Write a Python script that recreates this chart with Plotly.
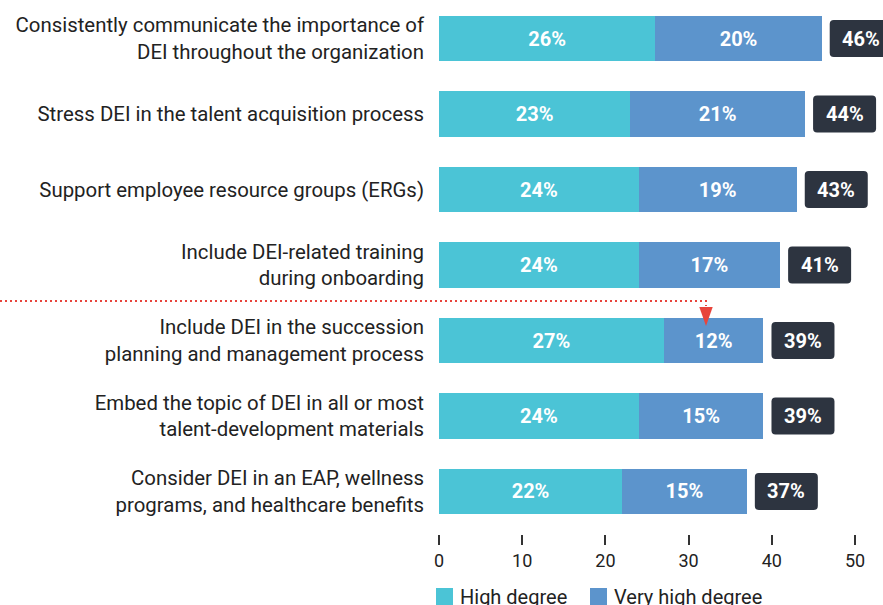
import plotly.graph_objects as go

categories = [
    "Consistently communicate the importance of<br>DEI throughout the organization",
    "Stress DEI in the talent acquisition process",
    "Support employee resource groups (ERGs)",
    "Include DEI-related training<br>during onboarding",
    "Include DEI in the succession<br>planning and management process",
    "Embed the topic of DEI in all or most<br>talent-development materials",
    "Consider DEI in an EAP, wellness<br>programs, and healthcare benefits",
]
high_degree = [26, 23, 24, 24, 27, 24, 22]
very_high_degree = [20, 21, 19, 17, 12, 15, 15]
series_names = ["High degree", "Very high degree"]
x_ticks = [0, 10, 20, 30, 40, 50]

C_HIGH = "#4bc4d6"
C_VHIGH = "#5c94cc"
C_BOX = "#2d3440"
C_RED = "#e8453c"
FONT = "Roboto"

totals = [a + b for a, b in zip(high_degree, very_high_degree)]
ypos = list(range(len(categories)))

fig = go.Figure()
for name, vals, col in [(series_names[0], high_degree, C_HIGH),
                        (series_names[1], very_high_degree, C_VHIGH)]:
    fig.add_trace(go.Bar(
        y=ypos, x=vals, name=name, orientation="h",
        marker=dict(color=col, line=dict(width=0)),
        texttemplate="%{x}%", textposition="inside", insidetextanchor="middle",
        textfont=dict(family=FONT, size=20, color="white", weight=700),
        showlegend=False, hoverinfo="skip",
    ))

# pixel scale helpers (x: 8.32 px/unit, y: 75.5 px/unit)
PX_X = 8.32
PX_Y = 75.5

def py2y(py):
    return (py - 38.5) / PX_Y

shapes = []
annotations = []
box_gap = 8 / PX_X
box_w = 63 / PX_X
box_h = 37 / PX_Y
rx = 4 / PX_X
ry = 4 / PX_Y
for yi, t in zip(ypos, totals):
    x0 = t + box_gap
    x1 = x0 + box_w
    y0 = yi - box_h / 2
    y1 = yi + box_h / 2
    path = (f"M {x0+rx},{y0} L {x1-rx},{y0} Q {x1},{y0} {x1},{y0+ry} "
            f"L {x1},{y1-ry} Q {x1},{y1} {x1-rx},{y1} L {x0+rx},{y1} "
            f"Q {x0},{y1} {x0},{y1-ry} L {x0},{y0+ry} Q {x0},{y0} {x0+rx},{y0} Z")
    shapes.append(dict(type="path", xref="x", yref="y", path=path,
                       fillcolor=C_BOX, line=dict(width=0), layer="above"))
    annotations.append(dict(x=(x0 + x1) / 2, y=yi, xref="x", yref="y",
                            text=f"{t}%", showarrow=False,
                            font=dict(family=FONT, size=20, color="white", weight=700)))

# dotted red divider with arrow
plot_w = 444
line_y = py2y(301)
ax_px = 706
arrow_x = (ax_px - 439) / PX_X
shapes.append(dict(type="path", xref="paper", yref="y",
                   path=f"M {-439/plot_w},{line_y} L {(ax_px-439)/plot_w},{line_y} L {(ax_px-439)/plot_w},{py2y(306)}",
                   line=dict(color=C_RED, width=2, dash="2px,3px"), layer="above"))
hw = 6.7 / PX_X
shapes.append(dict(type="path", xref="x", yref="y",
                   path=f"M {arrow_x-hw},{py2y(307)} L {arrow_x+hw},{py2y(307)} L {arrow_x},{py2y(326)} Z",
                   fillcolor=C_RED, line=dict(width=0), layer="above"))

# manual legend
def px2paper_x(px):
    return (px - 439) / plot_w

def px2paper_y(py):
    return (534 - py) / 534

leg = [(series_names[0], C_HIGH, 436), (series_names[1], C_VHIGH, 590)]
for name, col, px in leg:
    shapes.append(dict(type="rect", xref="paper", yref="paper",
                       x0=px2paper_x(px), x1=px2paper_x(px + 17),
                       y0=px2paper_y(588), y1=px2paper_y(605),
                       fillcolor=col, line=dict(width=0)))
    annotations.append(dict(x=px2paper_x(px + 22), y=px2paper_y(597), xref="paper", yref="paper",
                            text=name, showarrow=False, xanchor="left", yanchor="middle",
                            font=dict(family=FONT, size=20, color="#222222")))

fig.update_layout(
    width=883, height=605,
    margin=dict(l=439, r=0, t=0, b=71),
    barmode="stack", bargap=0.4,
    plot_bgcolor="white", paper_bgcolor="white",
    font=dict(family=FONT, color="#222222"),
    shapes=shapes, annotations=annotations,
    xaxis=dict(range=[0, 444 / PX_X], tickvals=x_ticks, ticktext=[str(v) for v in x_ticks],
               showgrid=False, zeroline=False, showline=False,
               ticks="outside", ticklen=10, tickwidth=2, tickcolor="#333333",
               tickfont=dict(family=FONT, size=18, color="#222222")),
    yaxis=dict(range=[6.563, -0.51], tickvals=ypos, ticktext=categories,
               showgrid=False, zeroline=False, showline=False, ticks="",
               ticklabelstandoff=14,
               tickfont=dict(family=FONT, size=20.4, color="#222222")),
)

fig.write_html("out.html", config={"displayModeBar": False},
               post_script="document.body.style.margin='0px';document.body.style.overflow='hidden';")
